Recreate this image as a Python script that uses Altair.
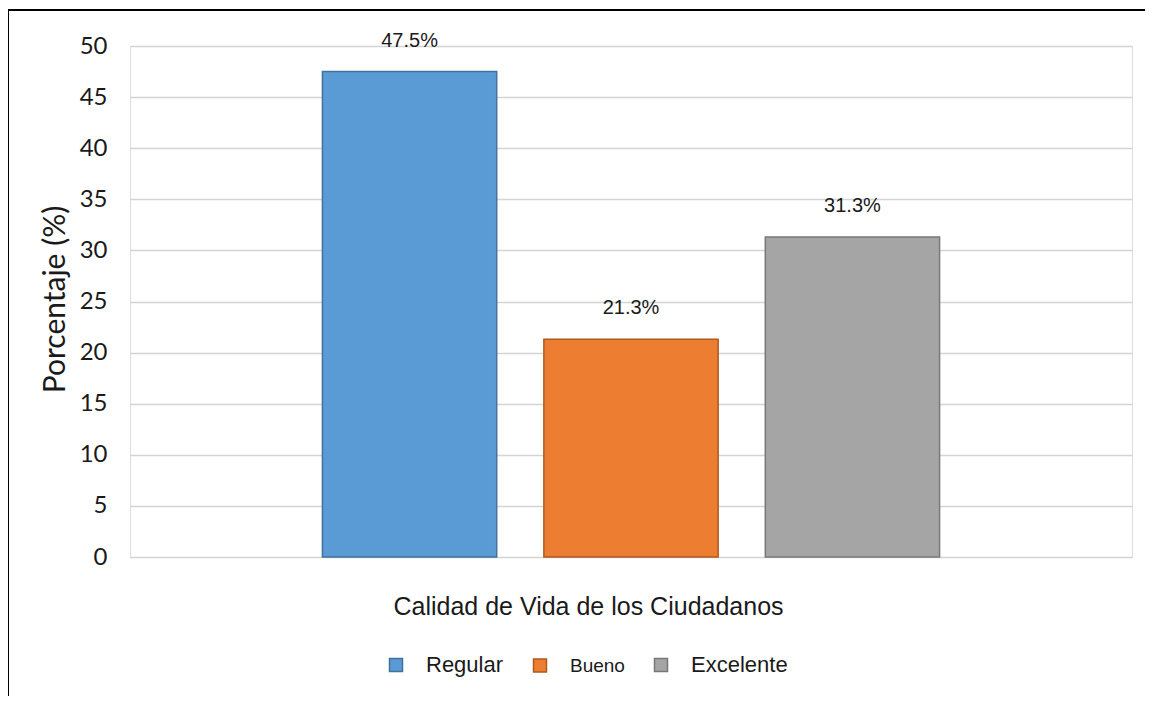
import altair as alt
import pandas as pd

categories = ["Regular", "Bueno", "Excelente"]
values = [47.5, 21.3, 31.3]
labels = ["47.5%", "21.3%", "31.3%"]
colors = ["#5b9bd5", "#ed7d31", "#a5a5a5"]
strokes = ["#41719c", "#ae5a21", "#787878"]

df = pd.DataFrame({"cat": categories, "val": values, "lab": labels})

W, H = 1002, 511

x_enc = alt.X("cat:N", sort=categories,
              scale=alt.Scale(domain=categories, paddingInner=0.213, paddingOuter=0.869),
              axis=alt.Axis(labels=False, ticks=False, domain=False, grid=False,
                            title="Calidad de Vida de los Ciudadanos",
                            titleFont="Liberation Sans", titleFontSize=25,
                            titleFontWeight="normal", titleColor="#1a1a1a",
                            titleX=458, titleY=49, titleBaseline="middle",
                            titleAnchor="start", titleAlign="center"))

y_enc = alt.Y("val:Q", scale=alt.Scale(domain=[0, 50], nice=False),
              axis=alt.Axis(values=[0, 5, 10, 15, 20, 25, 30, 35, 40, 45, 50],
                            ticks=False, domain=False, grid=True,
                            gridColor="#d4d4d4", gridWidth=1.6,
                            labelFont="Lato", labelFontSize=24, labelColor="#1a1a1a",
                            labelPadding=23,
                            title="Porcentaje (%)", titleFont="Lato", titleFontSize=30,
                            titleFontWeight="normal", titleColor="#1a1a1a",
                            titleX=-75, titleY=253, titleAngle=-90,
                            titleAlign="center", titleBaseline="middle", titleAnchor="start"))

bars = alt.Chart(df).mark_bar(strokeWidth=1.5, clip=False).encode(
    x=x_enc,
    y=y_enc,
    color=alt.Color("cat:N", sort=categories,
                    scale=alt.Scale(domain=categories, range=colors),
                    legend=alt.Legend(orient="none", legendX=255, legendY=608,
                                      direction="horizontal", title=None,
                                      symbolType="square", symbolSize=169,
                                      symbolStrokeWidth=1.5,
                                      labelFont="Liberation Sans",
                                      labelFontSize=alt.ExprRef("datum.value == 'Bueno' ? 19 : 22"),
                                      labelColor="#1a1a1a", labelOffset=19,
                                      columnPadding=25, padding=0)),
    stroke=alt.Stroke("cat:N", sort=categories,
                      scale=alt.Scale(domain=categories, range=strokes), legend=None),
)

text = alt.Chart(df).mark_text(font="Liberation Sans", fontSize=20, color="#1a1a1a",
                               baseline="middle", dy=-31).encode(
    x=alt.X("cat:N", sort=categories),
    y=alt.Y("val:Q"),
    text="lab:N",
)

frame_data = alt.Data(values=[{"k": 1}])
top_border = alt.Chart(frame_data).mark_rule(color="#000000", strokeWidth=2).encode(
    x=alt.value(-122), x2=alt.value(1030), y=alt.value(-36))
left_border = alt.Chart(frame_data).mark_rule(color="#000000", strokeWidth=2).encode(
    x=alt.value(-122), y=alt.value(-36), y2=alt.value(670))

chart = alt.layer(bars, text, top_border, left_border).properties(
    width=W, height=H,
    autosize=alt.AutoSizeParams(type="none"),
    padding={"left": 122, "top": 38, "right": 13, "bottom": 139},
).configure_view(stroke=None).configure(background="#ffffff")

chart.save("out.html", embed_options={"renderer": "svg", "actions": False})
